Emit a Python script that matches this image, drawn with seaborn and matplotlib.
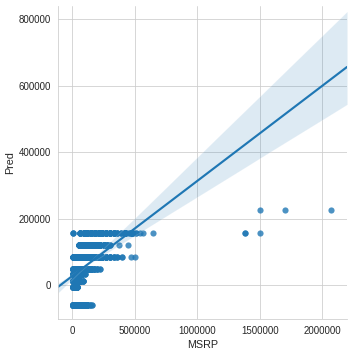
import matplotlib
matplotlib.use("Agg")
import matplotlib.pyplot as plt
import matplotlib.ticker as ticker
import seaborn as sns
import numpy as np
import pandas as pd

# predicted levels and the MSRP values that fall on each one (with how many cars sit there)
pred_levels = [-59000, -5000, 14000, 33000, 49000, 84000, 121000, 157000]

msrp_m59 = [2000, 20000, 40000, 60000, 80000, 100000, 120000, 140000, 160000]
count_m59 = [40, 60, 78, 40, 40, 30, 17, 3, 2]

msrp_m5 = [2000, 15000, 30000, 40000]
count_m5 = [30, 40, 30, 10]

msrp_14 = [2000, 20000, 40000, 60000, 88000]
count_14 = [30, 50, 50, 20, 5]

msrp_33 = [2000, 20000, 40000, 60000, 80000, 100000]
count_33 = [20, 40, 50, 30, 10, 3]

msrp_49 = [2000, 25000, 50000, 75000, 100000, 125000, 150000, 175000, 200000, 221000]
count_49 = [20, 60, 80, 70, 40, 20, 10, 6, 4, 2]

msrp_84 = [2000, 30000, 60000, 90000, 120000, 150000, 180000, 210000, 240000,
           270000, 300000, 330000, 360000, 395000, 470000, 500000]
count_84 = [10, 40, 80, 100, 80, 60, 40, 25, 15, 10, 6, 4, 3, 2, 1, 1]

msrp_121 = [50000, 75000, 100000, 125000, 150000, 175000, 200000, 225000, 250000,
            275000, 300000, 376000, 443000]
count_121 = [10, 30, 50, 60, 50, 40, 30, 20, 10, 6, 3, 1, 1]

msrp_157 = [2000, 62000, 90000, 120000, 150000, 180000, 210000, 240000, 270000, 300000,
            330000, 360000, 390000, 420000, 450000, 480000, 510000, 540000, 568000, 648000]
count_157 = [3, 8, 20, 30, 30, 30, 25, 20, 15, 10, 8, 4, 3, 32, 2, 31, 2, 1, 1, 1]

# the few very expensive cars
msrp_top = [1382750, 1382750, 1500000, 1500000, 1700000, 2065900]
pred_top = [157000, 157000, 157000, 228000, 228000, 228000]

groups = [(msrp_m59, count_m59), (msrp_m5, count_m5), (msrp_14, count_14), (msrp_33, count_33),
          (msrp_49, count_49), (msrp_84, count_84), (msrp_121, count_121), (msrp_157, count_157)]

xs = []
ys = []
for lvl, (m, c) in zip(pred_levels, groups):
    xs.append(np.repeat(m, c))
    ys.append(np.full(sum(c), lvl))
xs.append(np.array(msrp_top))
ys.append(np.array(pred_top))
df = pd.DataFrame({"MSRP": np.concatenate(xs), "Pred": np.concatenate(ys)})

sns.set_style("whitegrid")
plt.rcParams['font.family'] = ['Liberation Sans', 'DejaVu Sans']

fig, ax = plt.subplots(figsize=(5, 5), dpi=70.4)
fig.subplots_adjust(left=0.165, right=0.986, bottom=0.094, top=0.983)
ax.set_xlim(-114000, 2197000)
ax.set_ylim(-101000, 840000)

sns.regplot(data=df, x="MSRP", y="Pred", ax=ax, truncate=False, seed=3,
            scatter_kws={"s": 40, "linewidths": 0, "alpha": 0.8},
            line_kws={"lw": 2.2})

ax.xaxis.set_major_formatter(ticker.StrMethodFormatter("{x:.0f}"))
ax.yaxis.set_major_formatter(ticker.StrMethodFormatter("{x:.0f}"))
ax.tick_params(labelsize=10, colors=".15")
ax.set_xlabel("MSRP", fontsize=11, color=".15")
ax.set_ylabel("Pred", fontsize=11, color=".15")
sns.despine(ax=ax)

fig.savefig("out.png", dpi=70.4)
